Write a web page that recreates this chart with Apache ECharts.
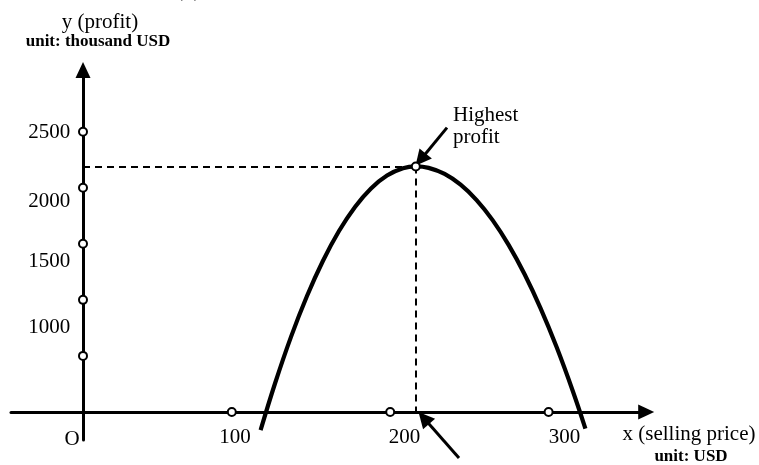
<!DOCTYPE html>
<html>
<head>
<meta charset="utf-8">
<script src="https://cdn.jsdelivr.net/npm/echarts@6/dist/echarts.min.js"></script>
<style>html,body{margin:0;padding:0;background:#fff;}#c{width:759px;height:465px;}</style>
</head>
<body>
<div id="c"></div>
<script>
// ---- data (in chart value space) ----
const xCircles = [93, 192, 291];
const yCircles = [500, 1000, 1500, 2000, 2500];
const xTickLabels = ['100', '200', '300'];
const xTickPos = [95, 201, 301];
const yTickLabels = ['1000', '1500', '2000', '2500'];
const yTickPos = [750, 1339, 1875, 2491];
const curveX = [111, 120, 130, 140, 150, 160, 170, 180, 190, 200, 208, 216, 226, 236, 246, 256, 266, 276, 286, 296, 306, 314];
const curveY = [-162, 254, 670, 1034, 1349, 1614, 1829, 1994, 2109, 2174, 2190, 2177, 2123, 2027, 1890, 1711, 1490, 1228, 924, 579, 192, -148];
const peakX = 208;
const peakY = 2190;
const peakArrow = [[227.5, 2536], [211, 2250]];
const footArrow = [[235, -411], [213, -54]];

const FONT = 'Liberation Serif';
const chart = echarts.init(document.getElementById('c'), null, {renderer: 'canvas'});

const axisCommon = {
  type: 'value',
  axisLine: {show: true, onZero: true, symbol: ['none', 'triangle'], symbolSize: [15, 16],
    lineStyle: {color: '#000', width: 3}},
  axisTick: {show: false},
  axisLabel: {show: false},
  splitLine: {show: false}
};

const tickLabelStyle = {show: true, formatter: p => p.name, color: '#000', opacity: 1,
  textBorderWidth: 0, textShadowBlur: 0, fontFamily: FONT, fontSize: 21};

chart.setOption({
  animation: false,
  backgroundColor: '#fff',
  grid: {left: 11, right: 112.8, top: 70, bottom: 25},
  xAxis: Object.assign({}, axisCommon, {min: -45, max: 352}),
  yAxis: Object.assign({}, axisCommon, {min: -250, max: 3050}),
  graphic: [
    {type: 'text', left: 175, top: -22, style: {text: '(a)', font: '24px "Liberation Serif"', fill: '#000'}},
    {type: 'text', x: 100, y: 22, style: {text: 'y (profit)', font: '21px "Liberation Serif"', fill: '#000', align: 'center', verticalAlign: 'middle'}},
    {type: 'text', x: 98, y: 42, style: {text: 'unit: thousand USD', font: 'bold 17px "Liberation Serif"', fill: '#000', align: 'center', verticalAlign: 'middle'}},
    {type: 'text', x: 72, y: 439, style: {text: 'O', font: '21px "Liberation Serif"', fill: '#000', align: 'center', verticalAlign: 'middle'}},
    {type: 'text', x: 453, y: 115, style: {text: 'Highest', font: '21px "Liberation Serif"', fill: '#000', align: 'left', verticalAlign: 'middle'}},
    {type: 'text', x: 453, y: 137, style: {text: 'profit', font: '21px "Liberation Serif"', fill: '#000', align: 'left', verticalAlign: 'middle'}},
    {type: 'text', x: 689, y: 434, style: {text: 'x (selling price)', font: '21px "Liberation Serif"', fill: '#000', align: 'center', verticalAlign: 'middle'}},
    {type: 'text', x: 691, y: 457, style: {text: 'unit: USD', font: 'bold 17px "Liberation Serif"', fill: '#000', align: 'center', verticalAlign: 'middle'}}
  ],
  series: [
    {
      type: 'line', smooth: 0.4, symbol: 'none', clip: false,
      data: curveX.map((x, i) => [x, curveY[i]]),
      lineStyle: {color: '#000', width: 4.2}, z: 3
    },
    {
      type: 'lines', coordinateSystem: 'cartesian2d', clip: false,
      lineStyle: {color: '#000', width: 2, type: [7, 5], opacity: 1},
      symbol: 'none',
      data: [
        {coords: [[0, peakY], [peakX, peakY]]},
        {coords: [[peakX, peakY], [peakX, 0]]}
      ], z: 2
    },
    {
      type: 'lines', coordinateSystem: 'cartesian2d', clip: false,
      lineStyle: {color: '#000', width: 3, opacity: 1},
      symbol: ['none', 'triangle'], symbolSize: [14, 16],
      data: [{coords: peakArrow}, {coords: footArrow}], z: 4
    },
    {
      type: 'scatter', symbol: 'circle', symbolSize: 8, clip: false,
      itemStyle: {color: '#fff', borderColor: '#000', borderWidth: 2, opacity: 1},
      data: xCircles.map(x => [x, 0]).concat(yCircles.map(y => [0, y])).concat([[peakX, peakY]]),
      z: 5
    },
    {
      type: 'scatter', symbolSize: 0, clip: false, silent: true,
      itemStyle: {opacity: 1, color: '#000'},
      data: xTickPos.map((x, i) => ({value: [x, -232], name: xTickLabels[i]})),
      label: Object.assign({}, tickLabelStyle, {position: 'inside'})
    },
    {
      type: 'scatter', symbolSize: 0, clip: false, silent: true,
      itemStyle: {opacity: 1, color: '#000'},
      data: yTickPos.map((y, i) => ({value: [-8, y], name: yTickLabels[i]})),
      label: Object.assign({}, tickLabelStyle, {position: 'left', distance: 0, align: 'right', verticalAlign: 'middle'})
    }
  ]
});
</script>
</body>
</html>
